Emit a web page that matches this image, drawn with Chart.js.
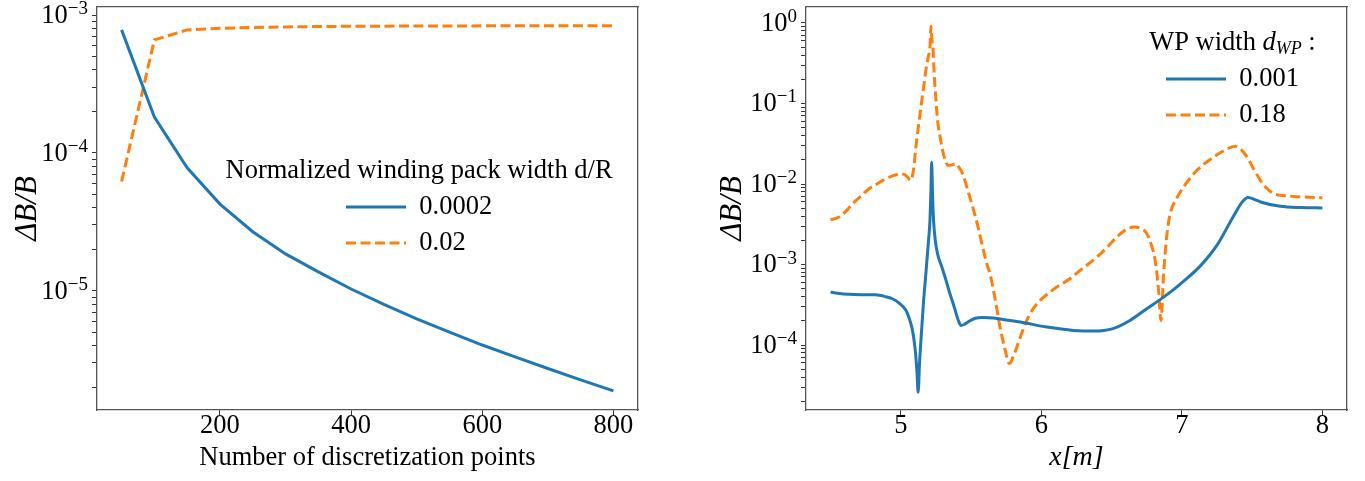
<!DOCTYPE html>
<html>
<head>
<meta charset="utf-8">
<script src="https://cdn.jsdelivr.net/npm/chart.js@4.4.1/dist/chart.umd.min.js"></script>
<style>
  html, body { margin: 0; padding: 0; background: #fff; }
  #wrap { position: relative; width: 1365px; height: 481px; }
  canvas { position: absolute; top: 0; }
  #left { left: 0; }
  #right { left: 683px; }
</style>
</head>
<body>
<div id="wrap">
  <canvas id="left" width="683" height="481"></canvas>
  <canvas id="right" width="682" height="481"></canvas>
</div>
<script>
// linker plot: fout tegen aantal discretisatiepunten
const nPoints = [50, 100, 150, 200, 250, 300, 350, 400, 450, 500, 550, 600, 650, 700, 750, 800];
const errThin = [7.8e-4, 1.82e-4, 7.8e-5, 4.25e-5, 2.68e-5, 1.85e-5, 1.37e-5, 1.03e-5,
                 7.96e-6, 6.26e-6, 5.01e-6, 4.04e-6, 3.31e-6, 2.73e-6, 2.26e-6, 1.88e-6];
const errWide = [6.2e-5, 6.6e-4, 7.8e-4, 8.0e-4, 8.12e-4, 8.2e-4, 8.25e-4, 8.28e-4,
                 8.3e-4, 8.32e-4, 8.33e-4, 8.34e-4, 8.35e-4, 8.36e-4, 8.36e-4, 8.37e-4];
const leftLabels = ['0.0002', '0.02'];
const leftLegendTitle = 'Normalized winding pack width d/R';

// rechter plot: fout langs x[m]
const xThin = [4.50, 4.55, 4.63, 4.72, 4.82, 4.90, 4.94, 4.99, 5.036, 5.065, 5.083, 5.10, 5.107, 5.115, 5.123,
               5.133, 5.143, 5.16, 5.178, 5.195, 5.207, 5.214, 5.219, 5.226, 5.233, 5.245, 5.261, 5.29, 5.321,
               5.35, 5.38, 5.41, 5.428, 5.45, 5.487, 5.53, 5.58, 5.66, 5.75, 5.85, 6.04, 6.23, 6.37, 6.51,
               6.63, 6.75, 6.85, 6.92, 6.99, 7.13, 7.25, 7.37, 7.43, 7.47, 7.52, 7.56, 7.70, 7.85, 8.00];
const dbThin = [4.55e-4, 4.4e-4, 4.26e-4, 4.22e-4, 4.2e-4, 3.95e-4, 3.76e-4, 3.3e-4, 2.7e-4, 2.0e-4, 1.52e-4,
                9.5e-5, 7.1e-5, 4.5e-5, 2.6e-5, 6e-5, 1.15e-4, 3.2e-4, 7.7e-4, 1.8e-3, 3.5e-3, 8e-3, 1.87e-2,
                7e-3, 3.5e-3, 2.0e-3, 1.36e-3, 9.5e-4, 6.4e-4, 4.3e-4, 2.96e-4, 2.0e-4, 1.75e-4, 1.8e-4, 1.98e-4,
                2.15e-4, 2.2e-4, 2.17e-4, 2.05e-4, 1.93e-4, 1.67e-4, 1.52e-4, 1.49e-4, 1.6e-4, 2.02e-4, 2.83e-4,
                3.72e-4, 4.57e-4, 5.75e-4, 9.55e-4, 1.74e-3, 4.07e-3, 6.0e-3, 6.8e-3, 6.4e-3, 5.98e-3, 5.28e-3,
                5.1e-3, 5.05e-3];
const xThick = [4.50, 4.56, 4.61, 4.656, 4.72, 4.774, 4.83, 4.893, 4.95, 5.00, 5.036, 5.071, 5.09, 5.107, 5.125,
                5.143, 5.16, 5.178, 5.195, 5.207, 5.214, 5.222, 5.23, 5.237, 5.25, 5.261, 5.28, 5.297, 5.315,
                5.333, 5.36, 5.392, 5.415, 5.44, 5.475, 5.511, 5.55, 5.582, 5.61, 5.634, 5.67, 5.706, 5.74,
                5.772, 5.80, 5.825, 5.86, 5.896, 5.94, 5.991, 6.05, 6.11, 6.20, 6.276, 6.395, 6.47, 6.537,
                6.60, 6.656, 6.70, 6.751, 6.785, 6.81, 6.834, 6.851, 6.87, 6.894, 6.917, 6.96, 7.012, 7.107,
                7.226, 7.30, 7.381, 7.42, 7.464, 7.51, 7.559, 7.60, 7.654, 7.72, 7.797, 7.90, 8.00];
const dbThick = [3.6e-3, 3.9e-3, 4.6e-3, 5.7e-3, 7.2e-3, 8.75e-3, 1.0e-2, 1.16e-2, 1.28e-2, 1.34e-2, 1.28e-2,
                 1.11e-2, 1.5e-2, 2.88e-2, 5.2e-2, 9.05e-2, 0.15, 0.258, 0.38, 0.5, 0.91, 0.6, 0.457, 0.235,
                 0.11, 6.2e-2, 3.8e-2, 2.62e-2, 2.0e-2, 1.71e-2, 1.72e-2, 1.79e-2, 1.6e-2, 1.34e-2, 8.5e-3,
                 5.2e-3, 2.9e-3, 1.65e-3, 1.05e-3, 7.7e-4, 3.8e-4, 1.67e-4, 9e-5, 5.9e-5, 7.2e-5, 9.4e-5,
                 1.4e-4, 2.02e-4, 2.8e-4, 3.59e-4, 4.4e-4, 5.25e-4, 6.6e-4, 8.45e-4, 1.24e-3, 1.65e-3, 2.2e-3,
                 2.7e-3, 2.92e-3, 2.85e-3, 2.41e-3, 1.7e-3, 1.13e-3, 4.78e-4, 2.02e-4, 7.7e-4, 2.4e-3, 4.3e-3,
                 6.5e-3, 9.2e-3, 1.48e-2, 2.16e-2, 2.6e-2, 2.94e-2, 2.7e-2, 2.16e-2, 1.55e-2, 1.11e-2, 9e-3,
                 7.6e-3, 7.2e-3, 7.0e-3, 6.85e-3, 6.76e-3];
const rightLabels = ['0.001', '0.18'];

const leftXTicks = [200, 400, 600, 800];
const rightXTicks = [5, 6, 7, 8];

const BLUE = '#1f77b4';
const ORANGE = '#ff7f0e';
const DASH = [10, 4.5];
const FONT = '"Liberation Serif", "DejaVu Serif", serif';
const FS = 26.5;

Chart.defaults.font.family = FONT;
Chart.defaults.font.size = FS;
Chart.defaults.color = '#000';

function logTicks(lo, hi) {
    const out = [];
    for (let e = Math.floor(Math.log10(lo)); e <= Math.ceil(Math.log10(hi)); e++) {
        for (let m = 1; m < 10; m++) {
            const v = m * Math.pow(10, e);
            if (v >= lo && v <= hi) out.push({value: v});
        }
    }
    return out;
}

function decade(v) {
    const e = Math.log10(v);
    return Math.abs(e - Math.round(e)) < 1e-6 ? Math.round(e) : null;
}

function pts(xs, ys) {
    return xs.map((x, i) => ({x: x, y: ys[i]}));
}

// klein lijnstukje als legendasymbool
function lineSample(color, dash) {
    const c = document.createElement('canvas');
    c.width = 60; c.height = 6;
    const g = c.getContext('2d');
    g.strokeStyle = color;
    g.lineWidth = 3;
    g.setLineDash(dash);
    g.beginPath(); g.moveTo(0, 3); g.lineTo(60, 3); g.stroke();
    return c;
}

// rand boven en rechts (zoals matplotlib spines)
function frameScales(topH, rightW) {
    return {
        xTop: {
            type: 'linear', position: 'top', min: 0, max: 1,
            ticks: {display: false},
            grid: {drawOnChartArea: false, drawTicks: false},
            border: {color: '#555', width: 1.3},
            afterFit: s => { s.height = topH; },
        },
        yRight: {
            type: 'linear', position: 'right', min: 0, max: 1,
            ticks: {display: false},
            grid: {drawOnChartArea: false, drawTicks: false},
            border: {color: '#555', width: 1.3},
            afterFit: s => { s.width = rightW; },
        },
    };
}

// legenda binnen de plot op vaste plek zetten
function legendAt(left, top) {
    return {
        id: 'legendAt',
        afterLayout(chart) {
            const lg = chart.legend;
            const w = lg.width, h = lg.height;
            lg.left = left; lg.top = top;
            lg.right = left + w; lg.bottom = top + h;
        },
    };
}

// legendatitel zelf tekenen (ook met subscript), gecentreerd op de items
function legendTitle(parts) {
    return {
        id: 'legendTitle',
        afterDraw(chart) {
            const lg = chart.legend;
            const ctx = chart.ctx;
            ctx.save();
            let total = 0;
            parts.forEach(p => { ctx.font = p.f; p.w = ctx.measureText(p.t).width; total += p.w; });
            const items = lg.legendHitBoxes;
            const l = items[0].left, r = Math.max(...items.map(b => b.left + b.width));
            let x = (l + r) / 2 - total / 2;
            const y = lg.top + FS / 2;
            ctx.fillStyle = '#000';
            ctx.textBaseline = 'middle';
            ctx.textAlign = 'left';
            parts.forEach(p => { ctx.font = p.f; ctx.fillText(p.t, x, y + p.dy); x += p.w; });
            ctx.restore();
        },
    };
}

// 10^n labels met echte superscript-grootte
const powerLabels = {
    id: 'powerLabels',
    afterDraw(chart) {
        const s = chart.scales.y;
        const ctx = chart.ctx;
        ctx.save();
        ctx.fillStyle = '#000';
        ctx.textBaseline = 'middle';
        ctx.textAlign = 'right';
        s.ticks.forEach(t => {
            const e = decade(t.value);
            if (e === null) return;
            const y = s.getPixelForValue(t.value);
            const exp = String(e).replace('-', '\u2212');
            let x = chart.chartArea.left - 9;
            ctx.font = '19px ' + FONT;
            ctx.fillText(exp, x, y - 6);
            x -= ctx.measureText(exp).width;
            ctx.font = FS + 'px ' + FONT;
            ctx.fillText('10', x, y + 1);
        });
        ctx.restore();
    },
};

function legendOptions() {
    return {
        position: 'chartArea',
        align: 'start',
        title: {display: true, text: ' ', font: {size: FS, lineHeight: 1}, padding: 0},
        labels: {
            usePointStyle: true,
            pointStyleWidth: 60,
            padding: 9.5,
            font: {size: FS},
            color: '#000',
        },
    };
}

function axisCommon(extra) {
    return Object.assign({
        grid: {drawOnChartArea: false, tickLength: 5, color: '#333', tickWidth: 1},
        border: {color: '#555', width: 1.3},
    }, extra);
}

function datasets(labels, a, b) {
    return [{
        label: labels[0],
        data: a,
        borderColor: BLUE,
        borderWidth: 3,
        pointRadius: 0,
        pointStyle: lineSample(BLUE, []),
        cubicInterpolationMode: 'monotone',
        xAxisID: 'x', yAxisID: 'y',
    }, {
        label: labels[1],
        data: b,
        borderColor: ORANGE,
        borderWidth: 3,
        borderDash: DASH,
        pointRadius: 0,
        pointStyle: lineSample(ORANGE, DASH),
        cubicInterpolationMode: 'monotone',
        xAxisID: 'x', yAxisID: 'y',
    }];
}

// linker grafiek
const leftSets = datasets(leftLabels, pts(nPoints, errThin), pts(nPoints, errWide));
leftSets.forEach(d => { d.cubicInterpolationMode = 'default'; });

new Chart(document.getElementById('left').getContext('2d'), {
    type: 'line',
    data: {datasets: leftSets},
    options: {
        responsive: false,
        animation: false,
        layout: {padding: 0},
        plugins: {
            legend: legendOptions(),
            tooltip: {enabled: false},
        },
        scales: Object.assign({
            x: axisCommon({
                type: 'linear', position: 'bottom', min: 12.5, max: 837.5,
                afterBuildTicks: s => { s.ticks = leftXTicks.map(v => ({value: v})); },
                ticks: {autoSkip: false, maxRotation: 0, padding: -5, font: {size: FS}},
                title: {display: true, text: 'Number of discretization points', font: {size: FS}, padding: {top: 0, bottom: 7}},
                afterFit: s => { s.height = 71; },
            }),
            y: axisCommon({
                type: 'logarithmic', position: 'left', min: 1.365e-6, max: 1.143e-3,
                afterBuildTicks: s => { s.ticks = logTicks(1.365e-6, 1.143e-3); },
                ticks: {display: false, autoSkip: false},
                title: {display: true, text: '\u0394B/B', font: {size: 31, style: 'italic'}, padding: {top: 9, bottom: 0}},
                afterFit: s => { s.width = 97; s.paddingTop = 0; s.paddingBottom = 0; },
            }),
        }, frameScales(7, 45)),
    },
    plugins: [legendAt(336.5, 157.75), powerLabels,
              legendTitle([{t: leftLegendTitle, f: FS + 'px ' + FONT, dy: 0}])],
});

// rechter grafiek
new Chart(document.getElementById('right').getContext('2d'), {
    type: 'line',
    data: {datasets: datasets(rightLabels, pts(xThin, dbThin), pts(xThick, dbThick))},
    options: {
        responsive: false,
        animation: false,
        layout: {padding: 0},
        plugins: {
            legend: legendOptions(),
            tooltip: {enabled: false},
        },
        scales: Object.assign({
            x: axisCommon({
                type: 'linear', position: 'bottom', min: 4.325, max: 8.175,
                afterBuildTicks: s => { s.ticks = rightXTicks.map(v => ({value: v})); },
                ticks: {autoSkip: false, maxRotation: 0, padding: -5, font: {size: FS}},
                title: {display: true, text: 'x[m]', font: {size: 28, style: 'italic'}, padding: {top: 0, bottom: 7}},
                afterFit: s => { s.height = 71; },
            }),
            y: axisCommon({
                type: 'logarithmic', position: 'left', min: 1.56e-5, max: 1.58,
                afterBuildTicks: s => { s.ticks = logTicks(1.56e-5, 1.58); },
                ticks: {display: false, autoSkip: false},
                title: {display: true, text: '\u0394B/B', font: {size: 31, style: 'italic'}, padding: {top: 31, bottom: 0}},
                afterFit: s => { s.width = 123; s.paddingTop = 0; s.paddingBottom = 0; },
            }),
        }, frameScales(7, 18)),
    },
    plugins: [legendAt(473.5, 29.75), powerLabels,
              legendTitle([
                  {t: 'WP width ', f: FS + 'px ' + FONT, dy: 0},
                  {t: 'd', f: 'italic ' + FS + 'px ' + FONT, dy: 0},
                  {t: 'WP', f: 'italic 18px ' + FONT, dy: 6},
                  {t: ' :', f: FS + 'px ' + FONT, dy: 0},
              ])],
});
</script>
</body>
</html>
